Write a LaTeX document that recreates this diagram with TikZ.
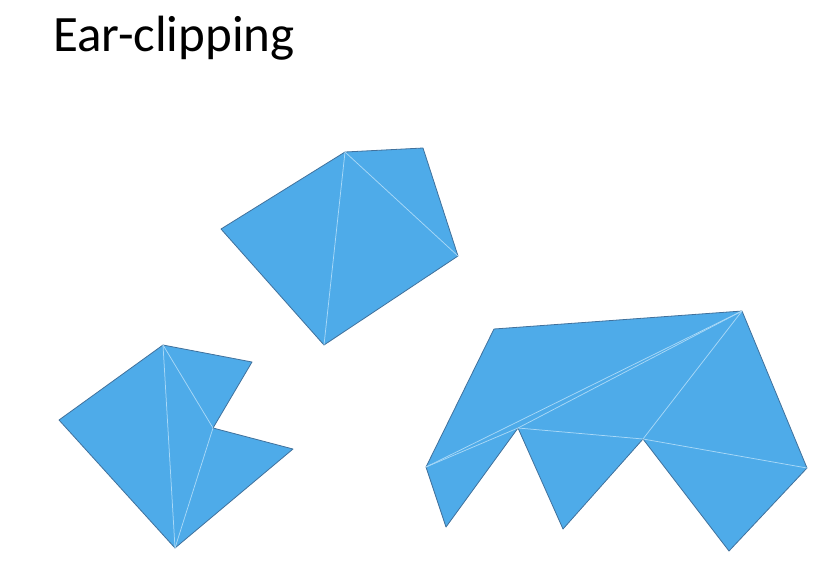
\documentclass[tikz,border=0pt]{standalone}
\usepackage{fontspec}
\setmainfont{Carlito}
\usepackage{tikz}
\definecolor{earfill}{HTML}{4EABE9}
\definecolor{earedge}{HTML}{41719C}
\definecolor{eardiag}{HTML}{A8D8F7}

\begin{document}
\begin{tikzpicture}[x=1pt,y=-1pt,
  poly/.style={fill=earfill,draw=earedge,line width=0.8pt,line join=round},
  diag/.style={draw=eardiag,line width=0.75pt}]
  \useasboundingbox (0,0) rectangle (817,563);

  % Title
  \node[font=\fontsize{51}{60}\selectfont,anchor=base west,inner sep=0pt] (title) at (53,51) {Ear-clipping};

  % Top polygon
  \coordinate (a1) at (345,152);
  \coordinate (a2) at (423,148);
  \coordinate (a3) at (458,256);
  \coordinate (a4) at (324,345);
  \coordinate (a5) at (221,229);
  \draw[poly] (a1) -- (a2) -- (a3) -- (a4) -- (a5) -- cycle;
  \draw[diag] (a1) -- (a3);
  \draw[diag] (a1) -- (a4);

  % Bottom-left polygon
  \coordinate (b1) at (163,345);
  \coordinate (b2) at (252,362);
  \coordinate (b3) at (213,428);
  \coordinate (b4) at (293,449);
  \coordinate (b5) at (175,548);
  \coordinate (b6) at (59,420);
  \draw[poly] (b1) -- (b2) -- (b3) -- (b4) -- (b5) -- (b6) -- cycle;
  \draw[diag] (b1) -- (b3);
  \draw[diag] (b1) -- (b5);
  \draw[diag] (b3) -- (b5);

  % Right polygon
  \coordinate (c1) at (494,329);
  \coordinate (c2) at (742,311);
  \coordinate (c3) at (807,468);
  \coordinate (c4) at (729,551);
  \coordinate (c5) at (643,439);
  \coordinate (c6) at (563,529);
  \coordinate (c7) at (518,428);
  \coordinate (c8) at (446,527);
  \coordinate (c9) at (426,467);
  \draw[poly] (c1) -- (c2) -- (c3) -- (c4) -- (c5) -- (c6) -- (c7) -- (c8) -- (c9) -- cycle;
  \draw[diag] (c9) -- (c7);
  \draw[diag] (c9) -- (c2);
  \draw[diag] (c7) -- (c2);
  \draw[diag] (c7) -- (c5);
  \draw[diag] (c5) -- (c2);
  \draw[diag] (c5) -- (c3);
\end{tikzpicture}
\end{document}
